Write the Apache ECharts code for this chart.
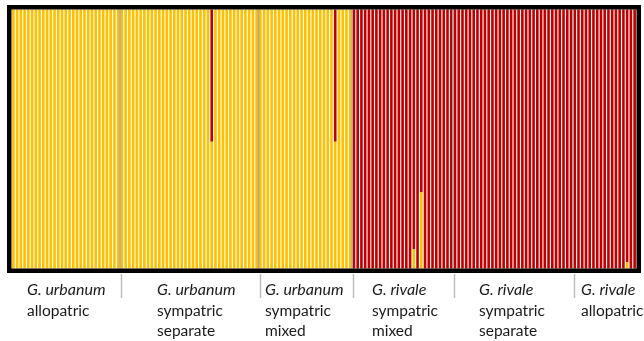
<!DOCTYPE html>
<html>
<head>
<meta charset="utf-8">
<script src="https://cdn.jsdelivr.net/npm/echarts@6/dist/echarts.min.js"></script>
<style>
  html, body { margin: 0; padding: 0; background: #ffffff; }
  #chart { width: 644px; height: 341px; }
</style>
</head>
<body>
<div id="chart"></div>
<script>
// Population groups, left to right
const speciesNames = ['G. urbanum', 'G. urbanum', 'G. urbanum', 'G. rivale', 'G. rivale', 'G. rivale'];
const siteLines = [
  ['allopatric'],
  ['sympatric', 'separate'],
  ['sympatric', 'mixed'],
  ['sympatric', 'mixed'],
  ['sympatric', 'separate'],
  ['allopatric']
];

// Membership in the G. urbanum cluster (q), one value per individual
const qUrbanumAllopatric = [1,1,1,1,1,1,1,1,1,1,1,1,1,1,1,1,1,1,1,1,1,1,1,1,1,1,1,1,1];
const qUrbanumSympSeparate = [1,1,1,1,1,1,1,1,1,1,1,1,1,1,1,1,1,1,1,1,1,1,1,1,0.49,1,1,1,1,1,1,1,1,1,1,1,1];
const qUrbanumSympMixed = [1,1,1,1,1,1,1,1,1,1,1,1,1,1,1,1,1,1,1,1,0.49,1,1,1,1];
const qRivaleSympMixed = [0,0,0,0,0,0,0,0,0,0,0,0,0,0,0,0,0.075,0,0.295,0,0,0,0,0,0,0,0];
const qRivaleSympSeparate = [0,0,0,0,0,0,0,0,0,0,0,0,0,0,0,0,0,0,0,0,0,0,0,0,0,0,0,0,0,0,0,0];
const qRivaleAllopatric = [0,0,0,0,0,0,0,0,0,0,0,0,0,0,0.025,0,0];

const groups = [qUrbanumAllopatric, qUrbanumSympSeparate, qUrbanumSympMixed,
                qRivaleSympMixed, qRivaleSympSeparate, qRivaleAllopatric];

// Flatten into individuals, remembering where each group ends
const individuals = [];
const yellowData = [];
const redData = [];
const boundaries = [];
groups.forEach(function (g, gi) {
  g.forEach(function (q) {
    individuals.push(String(individuals.length + 1));
    yellowData.push(q);
    redData.push(+(1 - q).toFixed(4));
  });
  if (gi < groups.length - 1) boundaries.push(individuals.length);
});
const total = individuals.length;

const plotLeft = 11.5, plotTop = 9.5, plotWidth = 625, plotHeight = 259;
const pitch = plotWidth / total;

const chart = echarts.init(document.getElementById('chart'), null, { renderer: 'canvas' });

chart.setOption({
  animation: false,
  backgroundColor: '#ffffff',
  grid: { left: plotLeft, top: plotTop, width: plotWidth, height: plotHeight, containLabel: false },
  xAxis: { type: 'category', data: individuals, boundaryGap: true, show: false },
  yAxis: { type: 'value', min: 0, max: 1, show: false },
  series: [
    {
      name: 'urbanum cluster',
      type: 'bar',
      stack: 'q',
      data: yellowData,
      barWidth: pitch - 1.1,
      itemStyle: { color: '#FFC000' }
    },
    {
      name: 'rivale cluster',
      type: 'bar',
      stack: 'q',
      data: redData,
      barWidth: pitch - 1.1,
      itemStyle: { color: '#C00000' }
    }
  ]
});

// Frame, group separators, dividers and group labels
const textLeft = [27, 157, 265, 372, 479, 581];
const lineY = [290, 310.5, 330.5];
const graphics = [];

graphics.push({
  type: 'rect',
  z: 100,
  shape: { x: 9.25, y: 7.25, width: 629.5, height: 263.5 },
  style: { fill: 'none', stroke: '#000000', lineWidth: 4.5 }
});

boundaries.forEach(function (b) {
  // boundary sits half a step left of the first individual of the next group
  const px = chart.convertToPixel({ xAxisIndex: 0 }, individuals[b]) - pitch / 2;
  graphics.push({
    type: 'line',
    z: 60,
    shape: { x1: px, y1: plotTop, x2: px, y2: plotTop + plotHeight },
    style: { stroke: '#A6A6A6', lineWidth: 1.6 }
  });
  const dx = Math.round(px) + 1.5;
  graphics.push({
    type: 'line',
    z: 50,
    shape: { x1: dx, y1: 274, x2: dx, y2: 298 },
    style: { stroke: '#BFBFBF', lineWidth: 1.5 }
  });
});

speciesNames.forEach(function (sp, i) {
  graphics.push({
    type: 'text',
    z: 50,
    x: textLeft[i],
    y: lineY[0],
    style: {
      text: sp,
      font: 'italic 16px Lato, "Open Sans", sans-serif',
      fill: '#1a1a1a',
      align: 'left',
      verticalAlign: 'middle'
    }
  });
  siteLines[i].forEach(function (t, j) {
    graphics.push({
      type: 'text',
      z: 50,
      x: textLeft[i],
      y: lineY[j + 1],
      style: {
        text: t,
        font: '15.5px Lato, "Open Sans", sans-serif',
        fill: '#1a1a1a',
        align: 'left',
        verticalAlign: 'middle'
      }
    });
  });
});

chart.setOption({ graphic: { elements: graphics } });
</script>
</body>
</html>
